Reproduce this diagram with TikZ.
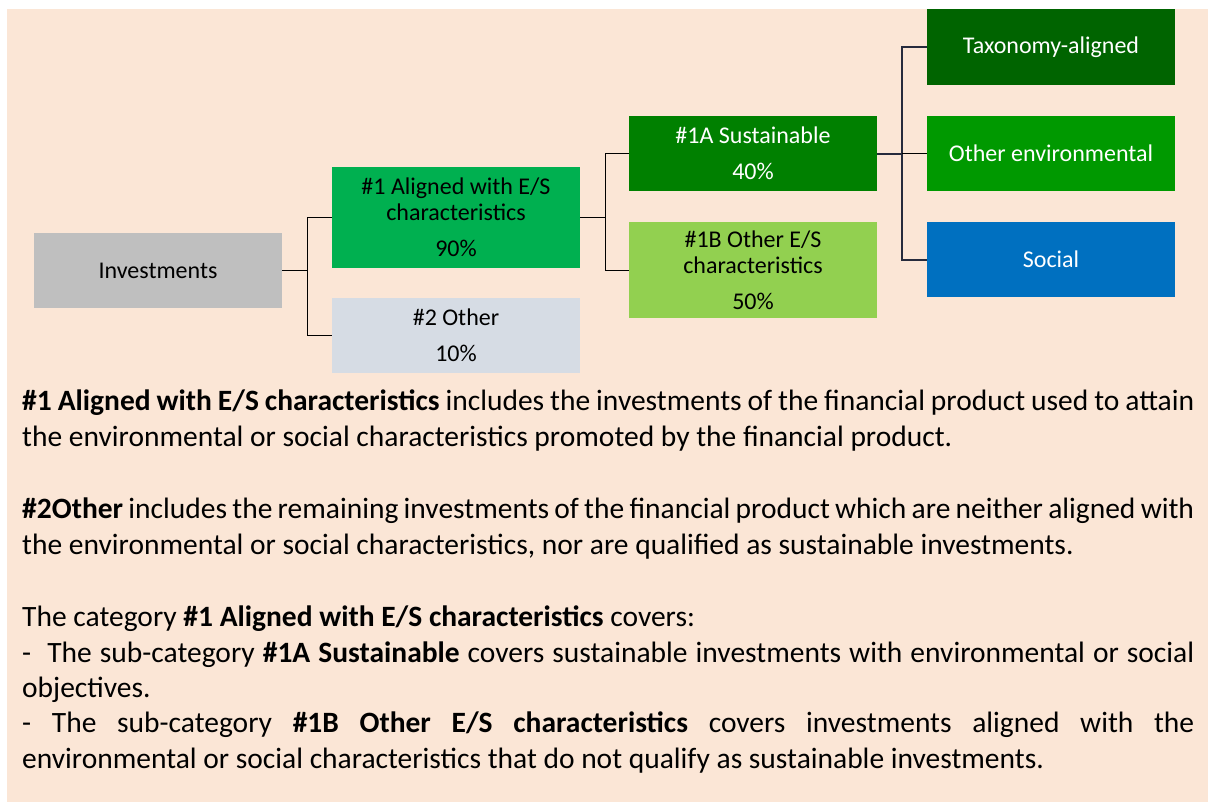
\documentclass[tikz,border=0pt]{standalone}
\usepackage{fontspec}
\setmainfont{Carlito}
\usepackage{tikz}

\definecolor{paper}{HTML}{FBE6D6}
\definecolor{invgrey}{HTML}{BFBFBF}
\definecolor{aligngreen}{HTML}{00B050}
\definecolor{othergrey}{HTML}{D6DCE4}
\definecolor{susgreen}{HTML}{008000}
\definecolor{esgreen}{HTML}{92D050}
\definecolor{taxgreen}{HTML}{006400}
\definecolor{envgreen}{HTML}{009900}
\definecolor{socblue}{HTML}{0070C0}
\definecolor{wire}{HTML}{262B3D}

\tikzset{
    box/.style={rectangle, inner sep=0pt, minimum width=248pt, align=center,
        font=\fontsize{24}{26}\selectfont},
    para/.style={anchor=north west, inner sep=0pt, text width=1172pt, align=justify,
        font=\fontsize{29.5}{35.3}\selectfont},
}

\begin{document}
\begin{tikzpicture}[x=1pt, y=-1pt]
        \useasboundingbox (0, 0) rectangle (1214, 803);
        \fill[paper] (7, 9) rectangle (1208, 802);

        \node[box, fill=invgrey, minimum height=75pt] (inv) at (158, 270.5) {Investments};
        \node[box, fill=aligngreen, minimum height=101pt] (es) at (456, 217.5) {\#1 Aligned with E/S\\characteristics\\[10pt]90\%};
        \node[box, fill=othergrey, minimum height=75pt] (oth) at (456, 335.5) {\#2 Other\\[10pt]10\%};

        \node[box, fill=susgreen, text=white, minimum height=75pt] (sus) at (753, 153.5) {\#1A Sustainable\\[10pt]40\%};
        \node[box, fill=esgreen, minimum height=96pt] (ose) at (753, 270) {\#1B Other E/S\\characteristics\\[10pt]50\%};

        \node[box, fill=taxgreen, text=white, minimum height=76pt] (tax) at (1051, 47) {Taxonomy-aligned};
        \node[box, fill=envgreen, text=white, minimum height=75pt] (env) at (1051, 153.5) {Other environmental};
        \node[box, fill=socblue, text=white, minimum height=75pt] (soc) at (1051, 259.5) {Social};

        \draw[-] (inv.east) -- ++(25, 0) |- (es.west);
        \draw[-] (inv.east) -- ++(25, 0) |- (oth.west);

        \draw[-] (es.east) -- ++(25, 0) |- (sus.west);
        \draw[-] (es.east) -- ++(25, 0) |- (ose.west);

        % the thick dark branch from the sustainable box
        \draw[wire, line width=2pt] (sus.east) -- ++(25, 0) |- (tax.west);
        \draw[wire, line width=2pt] (sus.east) -- ++(25, 0) |- (soc.west);
        \draw[-] (sus.east) ++(25, 0) -- (env.west);

        \node[para] (p1) at (22, 390) {\textbf{\#1 Aligned with E/S characteristics} includes the investments of the financial product used to attain\linebreak the environmental or social characteristics promoted by the financial product.};

        \node[para] (p2) at (22, 498) {\textbf{\#2Other} includes the remaining investments of the financial product which are neither aligned with\linebreak the environmental or social characteristics, nor are qualified as sustainable investments.};

        \node[para] (p3) at (22, 606) {The category \textbf{\#1 Aligned with E/S characteristics} covers:\par
-\ \ The sub-category \textbf{\#1A Sustainable} covers sustainable investments with environmental or social\linebreak objectives.\par
- The sub-category \textbf{\#1B Other E/S characteristics} covers investments aligned with the\linebreak environmental or social characteristics that do not qualify as sustainable investments.};
    \end{tikzpicture}
\end{document}
